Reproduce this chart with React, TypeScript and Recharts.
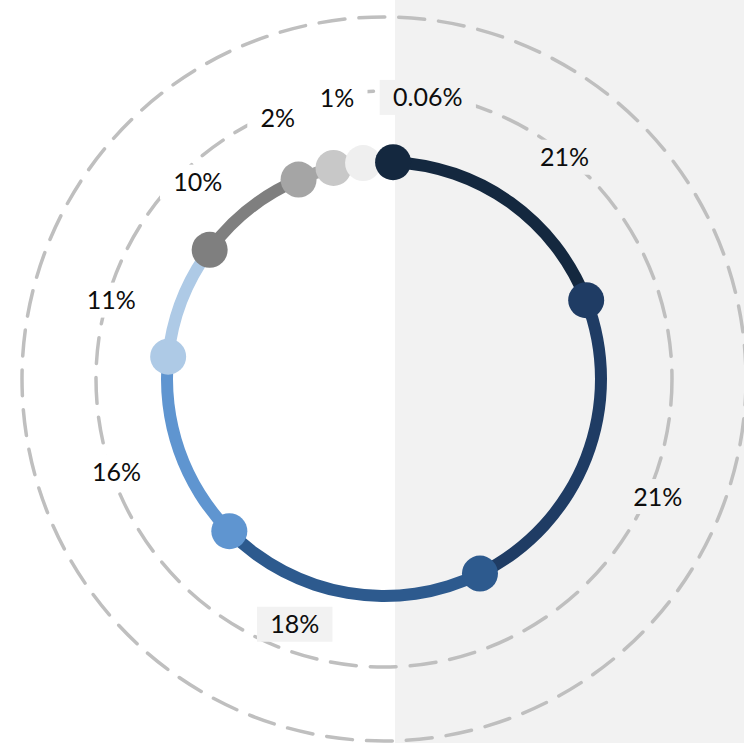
import React from 'react';
import { PieChart, Pie, Cell, PolarGrid } from 'recharts';

// Percentages shown in the labels (clockwise from the top)
const shares = [21, 21, 18, 16, 11, 10, 2, 1, 0.06];
// Size of each drawn ring segment (percent of the circle)
const ringSpan = [18.4, 23.6, 19.9, 14.0, 8.5, 8.4, 2.7, 2.2, 2.2];

// Styles
const colors = ['#14283f', '#1f3c64', '#2d5a8e', '#5f95d0', '#aecae6', '#7f7f7f', '#a5a5a5', '#c8c8c8', '#efefef'];
const labelFills = ['#f2f2f2', '#f2f2f2', '#f2f2f2', '#ffffff', '#ffffff', '#ffffff', '#ffffff', '#ffffff', '#f2f2f2'];
// label placement tweaks: clockwise angle shift from the segment middle (deg) and radius (px)
const labelPlace = [
  { da: 3.6, r: 286 },
  { da: 2, r: 298 },
  { da: 10.4, r: 261 },
  { da: 0.2, r: 283 },
  { da: -5.1, r: 284 },
  { da: -5.1, r: 271 },
  { da: -3.8, r: 282 },
  { da: 0, r: 285 },
  { da: 10.4, r: 285 },
];

const CX = 384;
const CY = 379;
const FONT = 25;
const RAD = Math.PI / 180;

const polar = (cx: number, cy: number, r: number, a: number) => ({
  x: cx + r * Math.cos(-a * RAD),
  y: cy + r * Math.sin(-a * RAD),
});

const textWidth = (t: string) => {
  let w = 0;
  for (const ch of t) {
    if (ch === '%') w += 0.82;
    else if (ch === '.') w += 0.25;
    else w += 0.58;
  }
  return w * FONT;
};

const renderLabel = (props: any) => {
  const { cx, cy, midAngle, endAngle, index, innerRadius, outerRadius } = props;
  const ringR = (innerRadius + outerRadius) / 2;
  const dot = polar(cx, cy, ringR, endAngle);
  const place = labelPlace[index];
  const p = polar(cx, cy, place.r, midAngle - place.da);
  const text = `${shares[index]}%`;
  const w = textWidth(text) + 26;
  const h = 35;
  return (
    <g key={`lab-${index}`}>
      <circle cx={dot.x} cy={dot.y} r={18} fill={colors[(index + 1) % colors.length]} />
      <rect x={p.x - w / 2} y={p.y - h / 2} width={w} height={h} fill={labelFills[index]} />
      <text
        x={p.x}
        y={p.y + FONT * 0.36}
        textAnchor="middle"
        fontFamily="Lato, 'Open Sans', sans-serif"
        fontSize={FONT}
        fill="#0d0d0d"
      >
        {text}
      </text>
    </g>
  );
};

export default function App() {
  const data = shares.map((s, i) => ({ name: `${s}%`, share: s, span: ringSpan[i] }));
  return (
    <div
      style={{
        position: 'absolute',
        left: 0,
        top: 0,
        width: 744,
        height: 743,
        background: 'linear-gradient(to right, #ffffff 0px, #ffffff 395px, #f2f2f2 395px, #f2f2f2 744px)',
      }}
    >
      <PieChart width={744} height={743} cx={CX} cy={CY} margin={{ top: 0, right: 0, bottom: 0, left: 0 }}>
        <PolarGrid
          gridType="circle"
          radialLines={false}
          polarRadius={[288, 362]}
          polarAngles={[0]}
          stroke="#bfbfbf"
          strokeWidth={3.5}
          strokeDasharray="26 14"
          strokeLinecap="round"
        />
        <Pie
          data={data}
          dataKey="span"
          nameKey="name"
          cx={CX}
          cy={CY}
          innerRadius={211}
          outerRadius={223}
          startAngle={87.6}
          endAngle={-272.4}
          stroke="none"
          isAnimationActive={false}
          label={renderLabel}
          labelLine={false}
        >
          {data.map((d, i) => (
            <Cell key={`c-${i}`} fill={colors[i]} stroke="none" />
          ))}
        </Pie>
      </PieChart>
    </div>
  );
}
